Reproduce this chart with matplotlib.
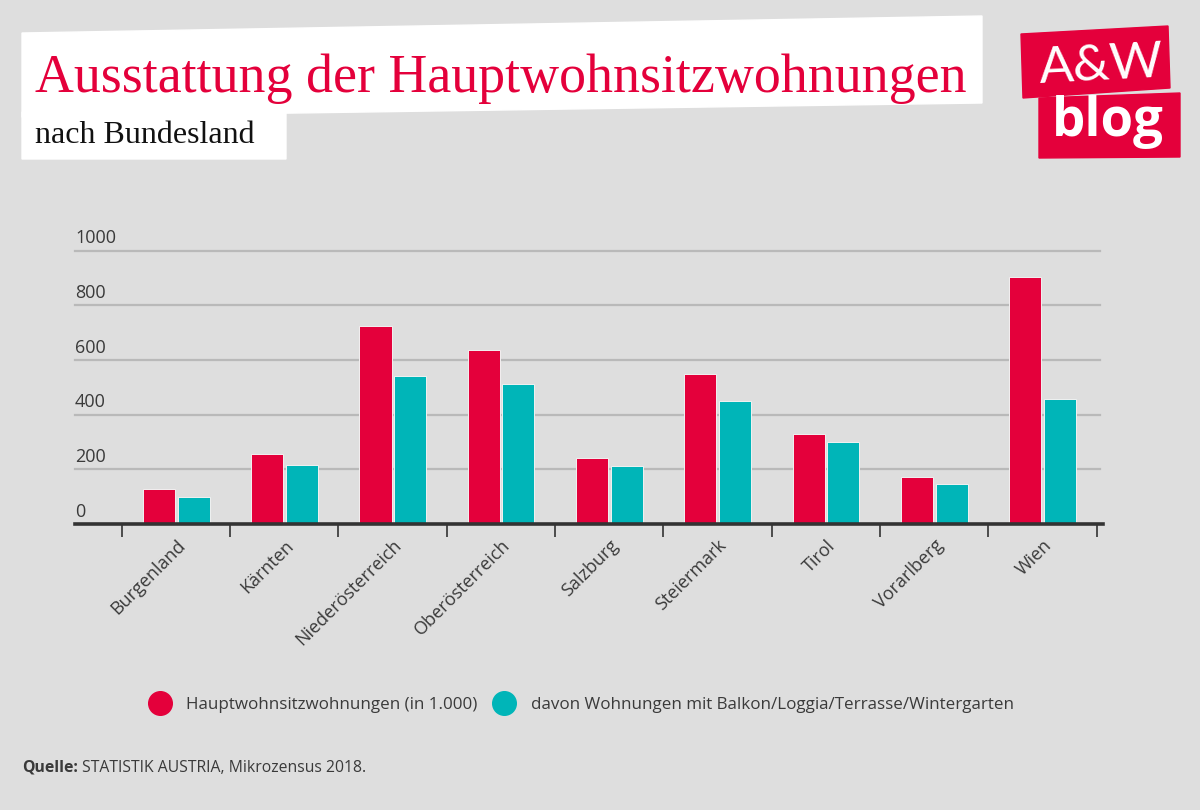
import matplotlib
matplotlib.use("Agg")
import matplotlib.pyplot as plt
from matplotlib.patches import Polygon
from matplotlib.lines import Line2D
import matplotlib.transforms as mtransforms
import numpy as np

# ---- data ----
categories = ["Burgenland", "Kärnten", "Niederösterreich", "Oberösterreich",
              "Salzburg", "Steiermark", "Tirol", "Vorarlberg", "Wien"]
haupt = [128, 256, 725, 635, 243, 549, 329, 171, 904]
balkon = [98, 216, 543, 511, 211, 451, 299, 145, 456]
series_labels = ["Hauptwohnsitzwohnungen (in 1.000)",
                 "davon Wohnungen mit Balkon/Loggia/Terrasse/Wintergarten"]
yticks = [0, 200, 400, 600, 800, 1000]
title = "Ausstattung der Hauptwohnsitzwohnungen"
subtitle = "nach Bundesland"
source_bold = "Quelle:"
source_rest = " STATISTIK AUSTRIA, Mikrozensus 2018."

RED = "#e4003b"
TEAL = "#00b5b8"
BG = "#dedede"
TXT = "#3a3a3a"

W, H = 1200, 810
fig = plt.figure(figsize=(W / 100, H / 100), dpi=100, facecolor=BG)

def P(x, y):
    return (x / W, 1 - y / H)

# axes placement
ax_left, ax_right = 75, 1100
base_y = 524
ppu = 0.2733  # pixels per unit
ytop = 1010
ax_top_px = base_y - ytop * ppu
ax = fig.add_axes([ax_left / W, 1 - base_y / H, (ax_right - ax_left) / W,
                   (base_y - ax_top_px) / H])
ax.set_facecolor(BG)
ax.set_ylim(0, ytop)
ax.set_xlim(-0.933, 8.532)

x = np.arange(len(categories))
bw = 0.296
ax.bar(x - 0.158, haupt, width=bw, color=RED, edgecolor="#f2f2f2", linewidth=0.7, zorder=3)
ax.bar(x + 0.162, balkon, width=bw, color=TEAL, edgecolor="#f2f2f2", linewidth=0.7, zorder=3)

for s in ax.spines.values():
    s.set_visible(False)
ax.set_yticks([])
for v in yticks[1:]:
    ax.axhline(v, color="#b9b9b9", lw=1.6, zorder=1, clip_on=False)
ax.axhline(0, color="#333333", lw=2.6, zorder=4, clip_on=False, xmax=1.003)

# y labels above gridlines
off = mtransforms.offset_copy(ax.get_yaxis_transform(), fig=fig, x=0, y=2.5, units="points")
for v in yticks:
    ax.text(0, v, str(v), transform=off, ha="left", va="bottom",
            fontsize=13, color=TXT, family="Open Sans")

# x ticks at boundaries
ax.set_xticks(np.arange(-0.5, len(categories), 1.0))
ax.set_xticklabels([])
ax.tick_params(axis="x", length=9, width=1.2, color="#333333", direction="out")

# category labels
lab_off = mtransforms.offset_copy(ax.get_xaxis_transform(), fig=fig, x=0, y=-9, units="points")
for i, c in enumerate(categories):
    ax.text(i, 0, c, transform=lab_off, rotation=45, rotation_mode="anchor",
            ha="right", va="top", fontsize=13, color=TXT, family="Open Sans")

# ---- title boxes ----
fig.patches.append(Polygon([P(22, 33), P(982, 16), P(982, 103), P(22, 117)],
                           closed=True, transform=fig.transFigure, color="white", zorder=0))
fig.patches.append(Polygon([P(22, 112), P(286, 110), P(286, 159), P(22, 159)],
                           closed=True, transform=fig.transFigure, color="white", zorder=0))
fig.text(*P(35, 92), title, fontsize=38.8, color=RED, family="Liberation Serif",
         ha="left", va="baseline")
fig.text(*P(35, 143), subtitle, fontsize=23, color="#111111", family="Liberation Serif",
         ha="left", va="baseline")

# ---- logo ----
fig.patches.append(Polygon([P(1021, 34), P(1168, 26), P(1170, 88), P(1023, 98)],
                           closed=True, transform=fig.transFigure, color=RED, zorder=0))
fig.patches.append(Polygon([P(1039, 98), P(1180, 93), P(1180, 157), P(1039, 158)],
                           closed=True, transform=fig.transFigure, color=RED, zorder=0))
fig.text(*P(1101, 83), "A&W", fontsize=37, color="white", family="Lato", weight="normal",
         ha="center", va="baseline", rotation=3)
fig.text(*P(1108, 136), "blog", fontsize=38, color="white", family="Open Sans", weight="bold",
         ha="center", va="baseline")

# ---- legend ----
handles = [Line2D([], [], marker="o", linestyle="", markersize=17, color=RED),
           Line2D([], [], marker="o", linestyle="", markersize=17, color=TEAL)]
leg = fig.legend(handles, series_labels, loc="center left", bbox_to_anchor=P(151, 705),
                 ncol=2, frameon=False, handlelength=1.0, handletextpad=1.05,
                 columnspacing=1.1, borderaxespad=0, borderpad=0,
                 prop={"family": "Open Sans", "size": 12.25})
for t in leg.get_texts():
    t.set_color(TXT)

# ---- source ----
t1 = fig.text(*P(22, 772), source_bold, fontsize=11.35, color=TXT, family="Open Sans",
              weight="bold", ha="left", va="baseline")
fig.canvas.draw()
bb = t1.get_window_extent()
fig.text(bb.x1 / W, 1 - 772 / H, source_rest, fontsize=11.35, color=TXT, family="Open Sans",
         ha="left", va="baseline")

fig.savefig("out.png", dpi=100, facecolor=BG)
